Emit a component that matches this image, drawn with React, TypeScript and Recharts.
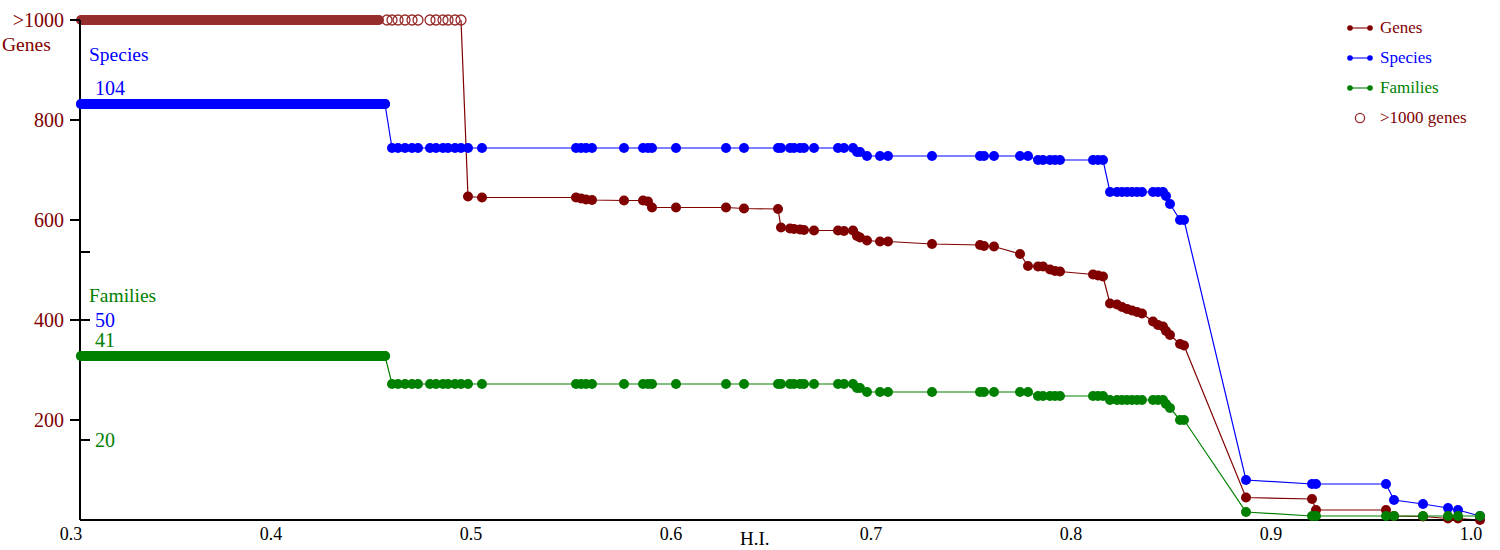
import React from 'react';
import { ComposedChart, Line, Scatter, XAxis, YAxis, Legend } from 'recharts';

// ---- data ----
const hiValues = [
  0.3005, 0.4525, 0.456, 0.459, 0.4625, 0.466, 0.469, 0.475, 0.478, 0.4815,
  0.484, 0.4875, 0.4905, 0.494, 0.501, 0.548, 0.5505, 0.553, 0.556, 0.572,
  0.5815, 0.584, 0.586, 0.598, 0.623, 0.632, 0.649, 0.6505, 0.655, 0.657,
  0.66, 0.662, 0.667, 0.679, 0.682, 0.6865, 0.6885, 0.69, 0.6935, 0.7,
  0.704, 0.726, 0.75, 0.752, 0.757, 0.77, 0.774, 0.779, 0.7815, 0.785,
  0.7875, 0.79, 0.8065, 0.809, 0.8115, 0.815, 0.8185, 0.821, 0.8235, 0.826,
  0.8285, 0.831, 0.8365, 0.839, 0.8415, 0.843, 0.845, 0.85, 0.852, 0.883,
  0.916, 0.918, 0.953, 0.957, 0.9715, 0.984, 0.989, 1.0,
];

// null = more than 1000 genes
const genesValues: (number | null)[] = [
  null, null, null, null, null, null, null, null, null, null,
  null, null, null, 647, 645, 645, 643, 641, 640, 639,
  639, 637, 625, 625, 625, 623, 622, 585, 583, 582,
  581, 580, 579, 579, 578, 579, 568, 565, 559, 557,
  557, 552, 550, 548, 547, 532, 508, 507, 507, 501,
  498, 497, 491, 489, 487, 433, 431, 426, 422, 419,
  416, 413, 397, 390, 387, 378, 370, 352, 349, 45,
  42, 20, 20, 8, 7, 3, 3, 0,
];

const speciesValues = [
  104, 104, 93, 93, 93, 93, 93, 93, 93, 93,
  93, 93, 93, 93, 93, 93, 93, 93, 93, 93,
  93, 93, 93, 93, 93, 93, 93, 93, 93, 93,
  93, 93, 93, 93, 93, 93, 92, 92, 91, 91,
  91, 91, 91, 91, 91, 91, 91, 90, 90, 90,
  90, 90, 90, 90, 90, 82, 82, 82, 82, 82,
  82, 82, 82, 82, 82, 81, 79, 75, 75, 10,
  9, 9, 9, 5, 4, 3, 2.5, 1,
];

const familiesValues = [
  41, 41, 34, 34, 34, 34, 34, 34, 34, 34,
  34, 34, 34, 34, 34, 34, 34, 34, 34, 34,
  34, 34, 34, 34, 34, 34, 34, 34, 34, 34,
  34, 34, 34, 34, 34, 34, 33, 33, 32, 32,
  32, 32, 32, 32, 32, 32, 32, 31, 31, 31,
  31, 31, 31, 31, 31, 30, 30, 30, 30, 30,
  30, 30, 30, 30, 30, 29, 28, 25, 25, 2,
  1, 1, 1, 1, 1, 1, 1, 1,
];

// open circles (>1000 genes) drawn individually, plus the dense run at the start
const over1000Hi = [0.4535, 0.456, 0.459, 0.4625, 0.466, 0.469, 0.475, 0.478, 0.4815, 0.484, 0.4875, 0.4905];
const over1000DenseHi = [0.3005, 0.4495];
const denseHi = [0.3005, 0.4525];

const xTicks = [0.3, 0.4, 0.5, 0.6, 0.7, 0.8, 0.9, 1.0];
const genesTicks = [200, 400, 600, 800, 1000];
const speciesTicks = [50, 67, 104];
const familiesTicks = [20, 41];
const countTicks = [...familiesTicks, ...speciesTicks].sort((a, b) => a - b);
const hiddenTickMarks = [41, 104]; // tick marks covered by the dense runs
const unlabeledTicks = [67];

// ---- styles ----
const FONT = "'Liberation Serif', 'Times New Roman', serif";
const GENES = '#800000';
const SPECIES = '#0000ff';
const FAMILIES = '#008000';
const RING = '#962d2d';

// ---- derived tables ----
const speciesData = hiValues.map((x, i) => ({ x, v: speciesValues[i] }));
const familiesData = hiValues.map((x, i) => ({ x, v: familiesValues[i] }));
const genesData = hiValues
  .map((x, i) => {
    const g = genesValues[i];
    const next = i + 1 < genesValues.length ? genesValues[i + 1] : null;
    return { x, v: g !== null ? g : next !== null ? 1000 : null, over: g === null };
  })
  .filter((d) => d.v !== null);
const over1000Data = over1000Hi.map((x) => ({ x, v: 1000 }));
const over1000Dense = over1000DenseHi.map((x) => ({ x, v: 1000 }));
const speciesDense = denseHi.map((x) => ({ x, v: speciesValues[0] }));
const familiesDense = denseHi.map((x) => ({ x, v: familiesValues[0] }));

const makeDot = (color: string) => (props: any) => {
  const { cx, cy, payload, index } = props;
  if (cx == null || cy == null || (payload && payload.over)) return <g key={`d${index}`} />;
  return <circle key={`d${index}`} cx={cx} cy={cy} r={5} fill={color} />;
};

const GenesTick = (props: any) => {
  const { x, y, payload } = props;
  return (
    <text x={x} y={y} dy="0.35em" textAnchor="end" fill={GENES} fontSize={20} fontFamily={FONT}>
      {payload.value === 1000 ? '>1000' : payload.value}
    </text>
  );
};

// tick mark (inside, 10px) + coloured label, drawn together
const CountTick = (props: any) => {
  const { x, y, payload } = props;
  const v = payload.value;
  const isSpecies = speciesTicks.includes(v);
  const shift = v === 104 || v === 41 ? -16 : 0;
  return (
    <g>
      {!hiddenTickMarks.includes(v) && (
        <line x1={x - 15} x2={x - 5} y1={y} y2={y} stroke="#000" strokeWidth={2} />
      )}
      {!unlabeledTicks.includes(v) && (
        <text
          x={x}
          y={y + shift}
          dy="0.35em"
          textAnchor="start"
          fill={isSpecies ? SPECIES : FAMILIES}
          fontSize={20}
          fontFamily={FONT}
        >
          {v}
        </text>
      )}
    </g>
  );
};

const XTick = (props: any) => {
  const { x, y, payload } = props;
  return (
    <text x={x - 9} y={y + 6} dy="0.35em" textAnchor="middle" fill="#000" fontSize={18} fontFamily={FONT}>
      {Number(payload.value).toFixed(1)}
    </text>
  );
};

const legendItems = [
  { label: 'Genes', color: GENES, kind: 'line' },
  { label: 'Species', color: SPECIES, kind: 'line' },
  { label: 'Families', color: FAMILIES, kind: 'line' },
  { label: '>1000 genes', color: GENES, kind: 'ring' },
];

const LegendBox = () => (
  <div style={{ fontFamily: FONT }}>
    {legendItems.map((it) => (
      <div key={it.label} style={{ display: 'flex', alignItems: 'center', height: 30 }}>
        <svg width={40} height={30} style={{ display: 'block' }}>
          {it.kind === 'line' ? (
            <g>
              <line x1={10} x2={30} y1={15} y2={15} stroke={it.color} strokeOpacity={0.55} strokeWidth={2} />
              <circle cx={10} cy={15} r={2.8} fill={it.color} />
              <circle cx={30} cy={15} r={2.8} fill={it.color} />
            </g>
          ) : (
            <circle cx={20} cy={15} r={4.6} fill="none" stroke={RING} strokeWidth={1.3} />
          )}
        </svg>
        <span style={{ color: it.color, fontSize: 17, lineHeight: '30px' }}>{it.label}</span>
      </div>
    ))}
  </div>
);

export default function App() {
  return (
    <div style={{ position: 'absolute', left: 0, top: 0, width: 1500, height: 550, background: '#fff' }}>
      <ComposedChart
        width={1500}
        height={550}
        margin={{ top: 20, right: 20, bottom: 0, left: 79 }}
        style={{ fontFamily: FONT }}
      >
        <XAxis
          type="number"
          dataKey="x"
          domain={[0.3, 1.0]}
          ticks={xTicks}
          interval={0}
          height={30}
          tickLine={false}
          axisLine={{ stroke: '#000', strokeWidth: 2 }}
          tick={<XTick />}
          label={() => (
            <text x={740} y={538} dy="0.35em" textAnchor="start" fill="#000" fontSize={19} fontFamily={FONT}>
              H.I.
            </text>
          )}
        />
        <YAxis
          yAxisId="genes"
          orientation="left"
          width={1}
          type="number"
          domain={[0, 1000]}
          ticks={genesTicks}
          interval={0}
          tickSize={10}
          tickMargin={6}
          tickLine={{ stroke: '#000', strokeWidth: 2 }}
          axisLine={{ stroke: '#000', strokeWidth: 2 }}
          tick={<GenesTick />}
          label={() => (
            <text x={2} y={44} dy="0.35em" textAnchor="start" fill={GENES} fontSize={19.5} fontFamily={FONT}>
              Genes
            </text>
          )}
        />
        <YAxis
          yAxisId="counts"
          orientation="left"
          width={1}
          type="number"
          mirror
          domain={[0, 125]}
          ticks={countTicks}
          interval={0}
          tickSize={10}
          tickMargin={5}
          tickLine={false}
          axisLine={false}
          tick={<CountTick />}
          label={() => (
            <g>
              <text x={89} y={54} dy="0.35em" textAnchor="start" fill={SPECIES} fontSize={19.5} fontFamily={FONT}>
                Species
              </text>
              <text x={89} y={295} dy="0.35em" textAnchor="start" fill={FAMILIES} fontSize={19.5} fontFamily={FONT}>
                Families
              </text>
            </g>
          )}
        />

        {/* dense runs at the start */}
        <Line
          yAxisId="genes"
          data={over1000Dense}
          dataKey="v"
          stroke={RING}
          strokeWidth={10}
          strokeLinecap="round"
          dot={false}
          activeDot={false}
          isAnimationActive={false}
          legendType="none"
        />
        <Scatter
          yAxisId="genes"
          data={over1000Data}
          dataKey="v"
          isAnimationActive={false}
          legendType="none"
          shape={(p: any) => <circle cx={p.cx} cy={p.cy} r={5} fill="none" stroke={RING} strokeWidth={1.3} />}
        />
        <Line
          yAxisId="genes"
          data={genesData}
          dataKey="v"
          type="linear"
          stroke={GENES}
          strokeWidth={1.2}
          dot={makeDot(GENES)}
          activeDot={false}
          isAnimationActive={false}
        />

        <Line
          yAxisId="counts"
          data={speciesDense}
          dataKey="v"
          stroke={SPECIES}
          strokeWidth={10}
          strokeLinecap="round"
          dot={false}
          activeDot={false}
          isAnimationActive={false}
          legendType="none"
        />
        <Line
          yAxisId="counts"
          data={speciesData}
          dataKey="v"
          type="linear"
          stroke={SPECIES}
          strokeWidth={1.2}
          dot={makeDot(SPECIES)}
          activeDot={false}
          isAnimationActive={false}
        />

        <Line
          yAxisId="counts"
          data={familiesDense}
          dataKey="v"
          stroke={FAMILIES}
          strokeWidth={10}
          strokeLinecap="round"
          dot={false}
          activeDot={false}
          isAnimationActive={false}
          legendType="none"
        />
        <Line
          yAxisId="counts"
          data={familiesData}
          dataKey="v"
          type="linear"
          stroke={FAMILIES}
          strokeWidth={1.2}
          dot={makeDot(FAMILIES)}
          activeDot={false}
          isAnimationActive={false}
        />

        <Legend
          layout="vertical"
          align="center"
          verticalAlign="middle"
          wrapperStyle={{ left: 1340, top: 13, width: 160 }}
          content={() => <LegendBox />}
        />
      </ComposedChart>
    </div>
  );
}
